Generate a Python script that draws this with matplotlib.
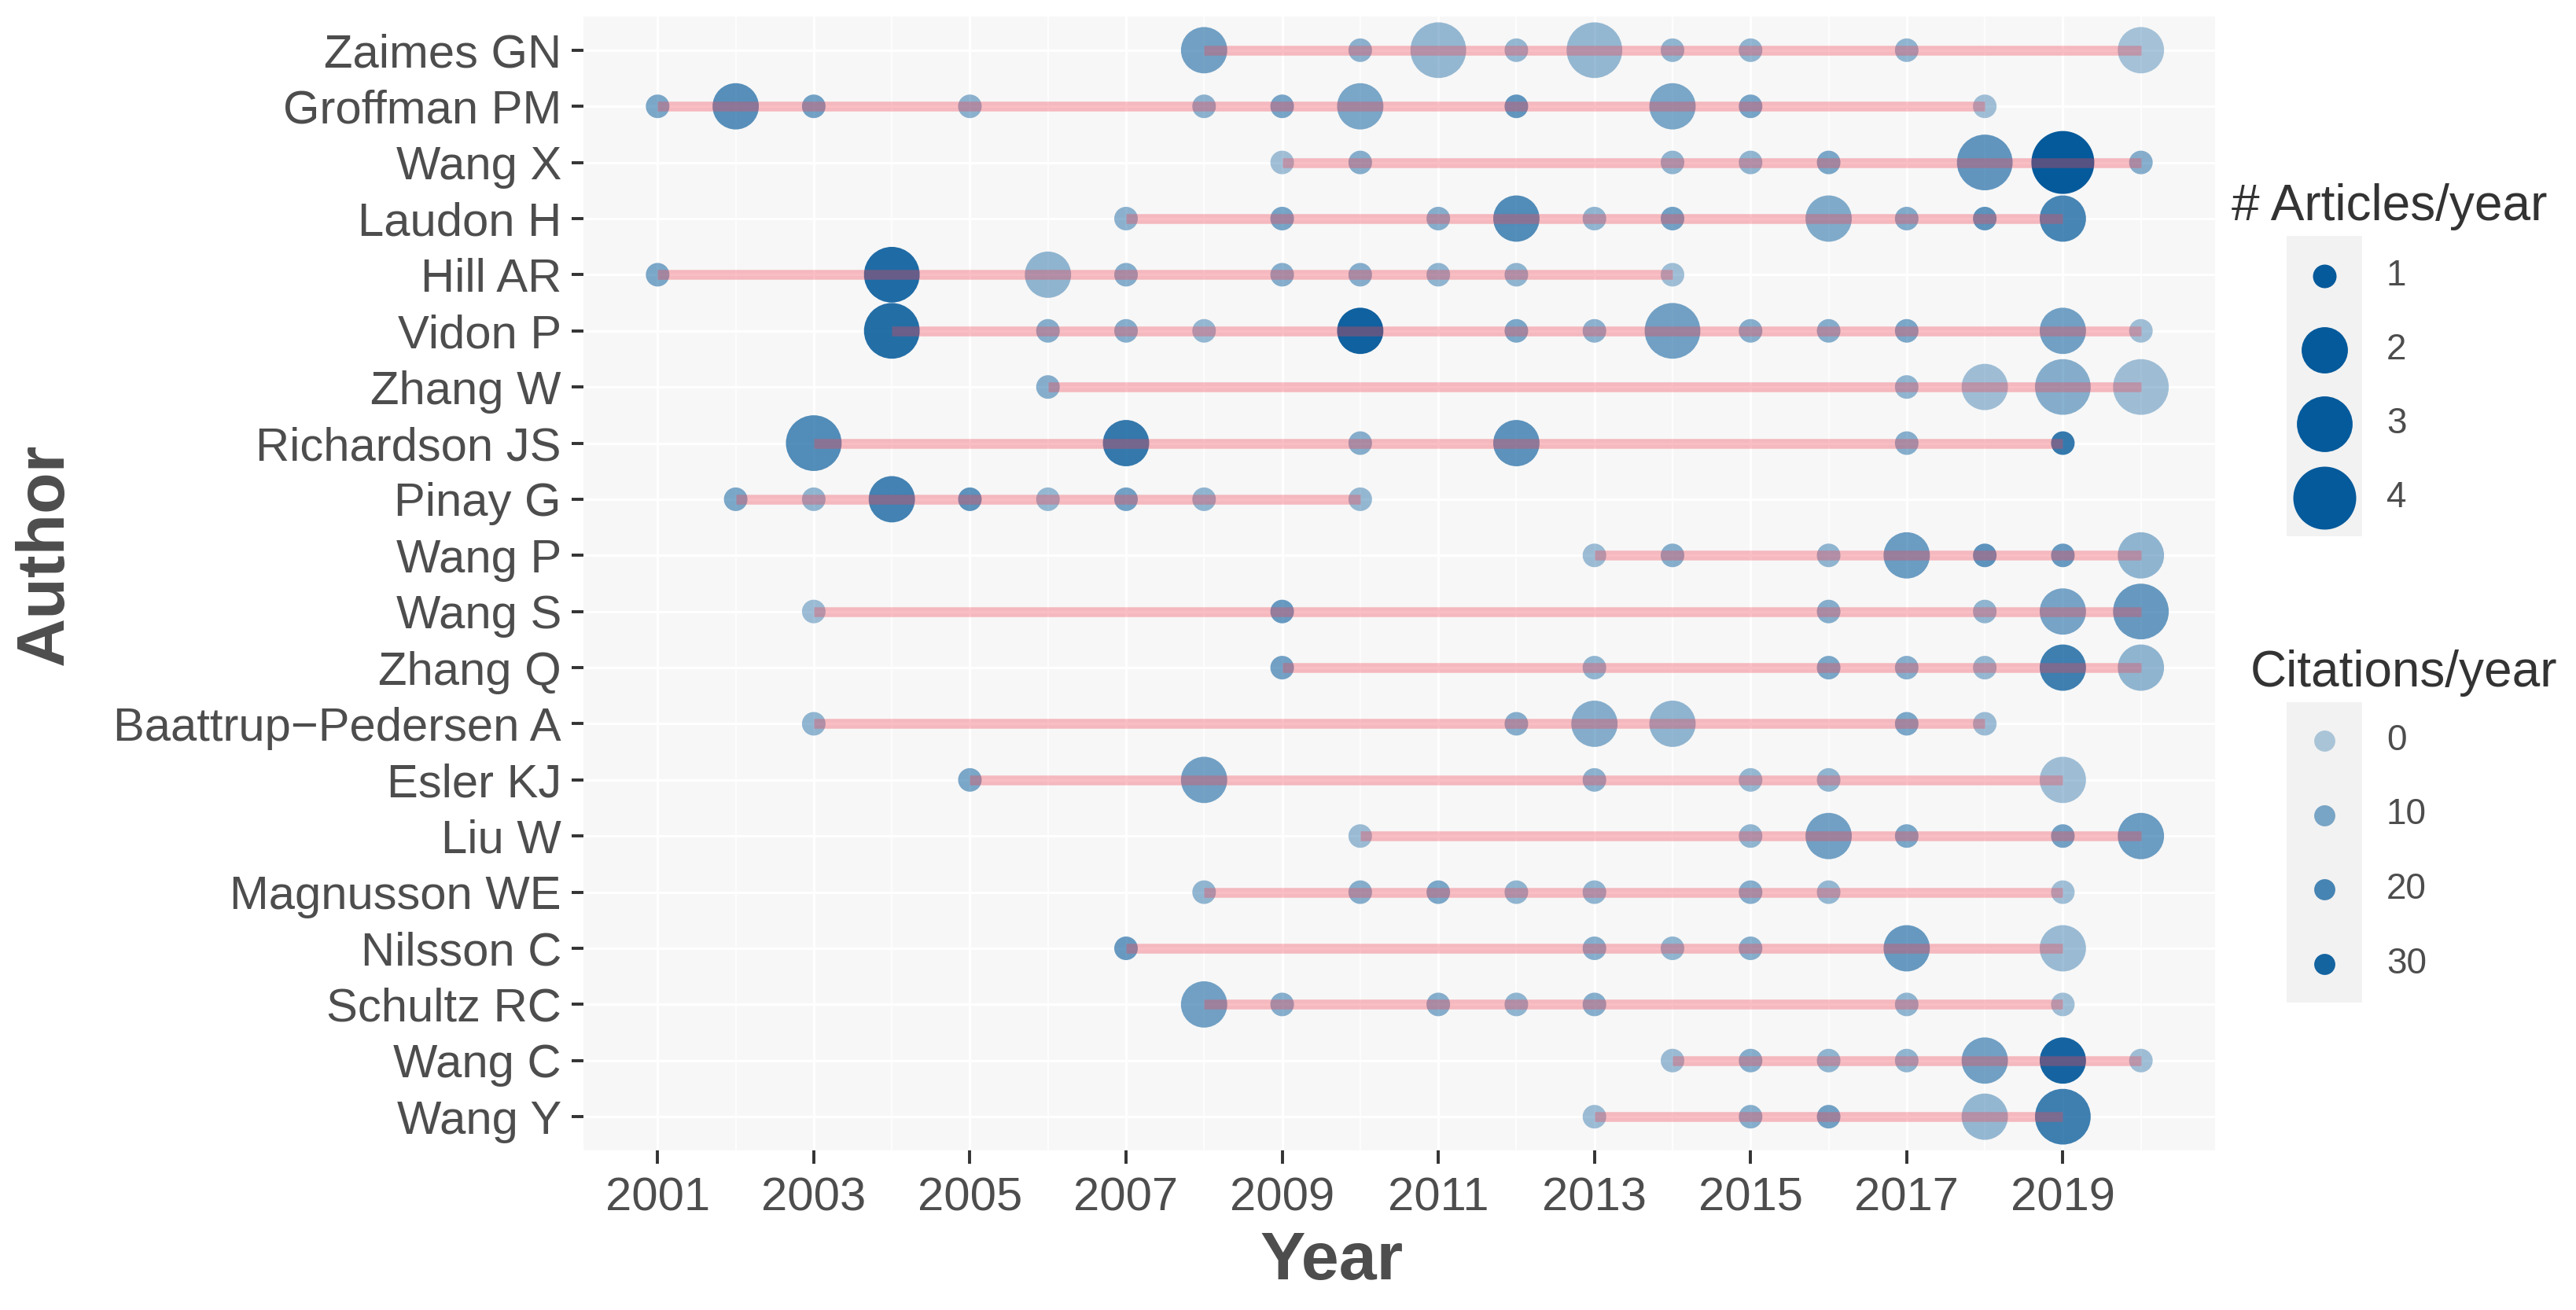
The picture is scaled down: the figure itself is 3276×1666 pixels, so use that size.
import numpy as np
import matplotlib
matplotlib.use('Agg')
import matplotlib.pyplot as plt
from matplotlib.patches import Rectangle

plt.rcParams['font.family'] = ['Liberation Sans', 'DejaVu Sans']

######################################################
# data

authors = ['Zaimes GN', 'Groffman PM', 'Wang X', 'Laudon H', 'Hill AR', 'Vidon P',
           'Zhang W', 'Richardson JS', 'Pinay G', 'Wang P', 'Wang S', 'Zhang Q',
           'Baattrup\u2212Pedersen A', 'Esler KJ', 'Liu W', 'Magnusson WE',
           'Nilsson C', 'Schultz RC', 'Wang C', 'Wang Y']

years = [
    [2008, 2010, 2011, 2012, 2013, 2014, 2015, 2017, 2020],
    [2001, 2002, 2003, 2005, 2008, 2009, 2010, 2012, 2014, 2015, 2018],
    [2009, 2010, 2014, 2015, 2016, 2018, 2019, 2020],
    [2007, 2009, 2011, 2012, 2013, 2014, 2016, 2017, 2018, 2019],
    [2001, 2004, 2006, 2007, 2009, 2010, 2011, 2012, 2014],
    [2004, 2006, 2007, 2008, 2010, 2012, 2013, 2014, 2015, 2016, 2017, 2019, 2020],
    [2006, 2017, 2018, 2019, 2020],
    [2003, 2007, 2010, 2012, 2017, 2019],
    [2002, 2003, 2004, 2005, 2006, 2007, 2008, 2010],
    [2013, 2014, 2016, 2017, 2018, 2019, 2020],
    [2003, 2009, 2016, 2018, 2019, 2020],
    [2009, 2013, 2016, 2017, 2018, 2019, 2020],
    [2003, 2012, 2013, 2014, 2017, 2018],
    [2005, 2008, 2013, 2015, 2016, 2019],
    [2010, 2015, 2016, 2017, 2019, 2020],
    [2008, 2010, 2011, 2012, 2013, 2015, 2016, 2019],
    [2007, 2013, 2014, 2015, 2017, 2019],
    [2008, 2009, 2011, 2012, 2013, 2017, 2019],
    [2014, 2015, 2016, 2017, 2018, 2019, 2020],
    [2013, 2015, 2016, 2018, 2019],
]

articles = [
    [2, 1, 3, 1, 3, 1, 1, 1, 2],
    [1, 2, 1, 1, 1, 1, 2, 1, 2, 1, 1],
    [1, 1, 1, 1, 1, 3, 4, 1],
    [1, 1, 1, 2, 1, 1, 2, 1, 1, 2],
    [1, 3, 2, 1, 1, 1, 1, 1, 1],
    [3, 1, 1, 1, 2, 1, 1, 3, 1, 1, 1, 2, 1],
    [1, 1, 2, 3, 3],
    [3, 2, 1, 2, 1, 1],
    [1, 1, 2, 1, 1, 1, 1, 1],
    [1, 1, 1, 2, 1, 1, 2],
    [1, 1, 1, 1, 2, 3],
    [1, 1, 1, 1, 1, 2, 2],
    [1, 1, 2, 2, 1, 1],
    [1, 2, 1, 1, 1, 2],
    [1, 1, 2, 1, 1, 2],
    [1, 1, 1, 1, 1, 1, 1, 1],
    [1, 1, 1, 1, 2, 2],
    [2, 1, 1, 1, 1, 1, 1],
    [1, 1, 1, 1, 2, 2, 1],
    [1, 1, 1, 2, 3],
]

citations = [
    [12, 7, 5, 5, 5, 6, 6, 6, 2],
    [10, 17, 12, 7, 7, 11, 10, 15, 10, 11, 3],
    [3, 8, 6, 6, 10, 15, 33, 8],
    [7, 11, 8, 18, 6, 12, 9, 9, 16, 20],
    [10, 28, 6, 8, 8, 8, 6, 6, 3],
    [27, 8, 8, 5, 31, 10, 7, 12, 8, 8, 10, 12, 3],
    [8, 6, 3, 8, 3],
    [18, 24, 8, 16, 8, 24],
    [10, 6, 21, 16, 5, 12, 6, 5],
    [4, 8, 6, 13, 16, 14, 6],
    [4, 14, 8, 6, 11, 14],
    [12, 6, 10, 8, 5, 22, 6],
    [6, 8, 8, 6, 10, 4],
    [10, 12, 7, 5, 6, 3],
    [4, 6, 12, 10, 12, 13],
    [6, 8, 10, 6, 6, 8, 5, 3],
    [14, 8, 6, 8, 14, 4],
    [12, 8, 8, 6, 8, 6, 3],
    [4, 8, 6, 6, 12, 30, 3],
    [4, 8, 12, 5, 22],
]

size_breaks = [1, 2, 3, 4]
cite_breaks = [0, 10, 20, 30]

######################################################

W, H, DPI = 3276, 1666, 200
BLUE = np.array([5, 90, 155]) / 255.
LINE = (0.94, 0.27, 0.33)
GREY = '#4D4D4D'


def marker_area(n):
    ''' ggplot-like area scale: diameter 30..80 px for 1..4 articles '''
    d_px = 30 + 50 * np.sqrt((np.asarray(n, float) - 1) / 3.)
    d_pt = d_px / (DPI / 72.)
    return d_pt ** 2


def point_colour(tc):
    a = 0.3 + 0.7 * np.clip(np.asarray(tc, float) / 33., 0, 1)
    return [(BLUE[0], BLUE[1], BLUE[2], ai) for ai in np.atleast_1d(a)]


fig = plt.figure(figsize=(W / DPI, H / DPI), dpi=DPI)
ax = fig.add_axes([742 / W, 1 - 1463 / H, (2817 - 742) / W, (1463 - 21) / H])
ax.set_facecolor('#F7F7F7')

n = len(authors)
ypos = np.arange(n)[::-1]

for i in range(n):
    y = np.full(len(years[i]), ypos[i])
    ax.scatter(years[i], y, s=marker_area(articles[i]), c=point_colour(citations[i]),
               linewidths=0, zorder=2)
for i in range(n):
    ax.plot([min(years[i]), max(years[i])], [ypos[i], ypos[i]], color=LINE,
            alpha=0.35, lw=4.5, solid_capstyle='butt', zorder=3)

ax.set_xlim(2000.05, 2020.95)
ax.set_ylim(-0.6, n - 0.4)
ax.set_xticks(range(2001, 2020, 2))
ax.set_xticks(range(2002, 2021, 2), minor=True)
ax.set_yticks(ypos)
ax.set_yticklabels(authors)
ax.set_axisbelow(True)
ax.grid(which='major', color='white', lw=1.15)
ax.grid(which='minor', axis='x', color='white', lw=0.6)
for s in ax.spines.values():
    s.set_visible(False)
ax.tick_params(axis='y', length=5.4, width=1.4, color='#333333', pad=4.7,
               labelsize=21.5, labelcolor=GREY)
ax.tick_params(axis='x', length=6, width=1.4, color='#333333', pad=6,
               labelsize=21.5, labelcolor=GREY)
ax.tick_params(which='minor', length=0)

fig.text(58 / W, 1 - 705 / H, 'Author', rotation=90, ha='center', va='center',
         fontsize=31, fontweight='bold', color=GREY)
fig.text(1694 / W, 1 - 1605 / H, 'Year', ha='center', va='center',
         fontsize=31, fontweight='bold', color=GREY)

# legends, drawn by hand in pixel coordinates
lax = fig.add_axes([0, 0, 1, 1])
lax.set_xlim(0, W)
lax.set_ylim(H, 0)
lax.axis('off')

lax.text(2838, 263, '# Articles/year', ha='left', va='center', fontsize=23, color='#333333')
lax.add_patch(Rectangle((2908, 300), 96, 382, facecolor='#F2F2F2', edgecolor='none'))
for k, b in enumerate(size_breaks):
    yk = 351 + k * 94
    lax.scatter([2956], [yk], s=marker_area(b), color=BLUE, linewidths=0)
    lax.text(3035, yk, str(b), ha='left', va='center', fontsize=16.5, color=GREY)

lax.text(2862, 856, 'Citations/year', ha='left', va='center', fontsize=23, color='#333333')
lax.add_patch(Rectangle((2908, 893), 96, 382, facecolor='#F2F2F2', edgecolor='none'))
for k, b in enumerate(cite_breaks):
    yk = 942 + k * 94.5
    lax.scatter([2956], [yk], s=marker_area(1) * 0.8, c=point_colour(b), linewidths=0)
    lax.text(3035, yk, str(b), ha='left', va='center', fontsize=16.5, color=GREY)

fig.savefig('out.png', dpi=DPI, facecolor='white')
